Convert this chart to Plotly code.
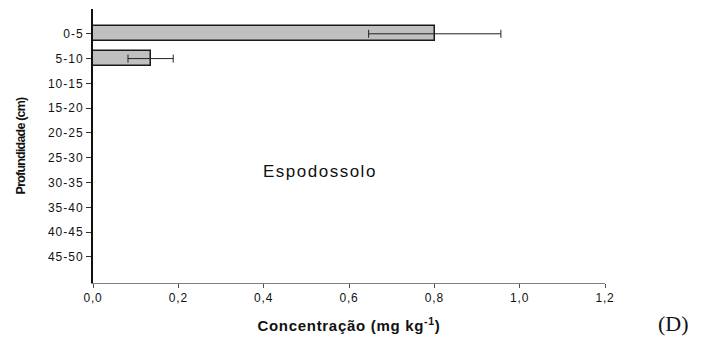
import plotly.graph_objects as go

# Depth layers (cm) and measured concentration with its deviation
depths = ["0-5", "5-10", "10-15", "15-20", "20-25", "25-30", "30-35", "35-40", "40-45", "45-50"]
concentration = [0.801, 0.135]
deviation = [0.155, 0.053]
x_ticks = [0.0, 0.2, 0.4, 0.6, 0.8, 1.0, 1.2]
x_tick_labels = ["0,0", "0,2", "0,4", "0,6", "0,8", "1,0", "1,2"]

positions = list(range(1, len(depths) + 1))

L, R, T, B = 93, 109, 9, 55
W, H = 714, 338


def spaced(text, px):
    return f'<span style="letter-spacing:{px}px">{text}</span>'


fig = go.Figure()
fig.add_trace(go.Bar(
    x=concentration,
    y=positions[:len(concentration)],
    orientation="h",
    width=0.61,
    marker=dict(color="#c0c0c0", line=dict(color="#1a1a1a", width=1.5)),
    error_x=dict(type="data", array=deviation, visible=True,
                 color="#222222", thickness=1, width=4),
    showlegend=False,
))

fig.add_annotation(x=0.532, y=6.55, xref="x", yref="y",
                   text=spaced("Espodossolo", 1.5),
                   showarrow=False, font=dict(family="Liberation Sans, Arial", size=17, color="#111"))
fig.add_annotation(x=(673 - L) / (W - L - R), y=(H - B - 323) / (H - T - B),
                   xref="paper", yref="paper", text="(D)",
                   xanchor="center", yanchor="middle",
                   showarrow=False, font=dict(family="Liberation Serif, Times New Roman", size=22, color="#111"))

fig.update_layout(
    width=W, height=H,
    margin=dict(l=L, r=R, t=T, b=B, autoexpand=False),
    paper_bgcolor="white", plot_bgcolor="white",
    font=dict(family="Liberation Sans, Arial", color="#111"),
    bargap=0,
)

fig.update_xaxes(
    range=[0, 1.2], tickvals=x_ticks, ticktext=[spaced(t, 0.8) for t in x_tick_labels],
    showgrid=False, zeroline=False, automargin=False,
    showline=True, linecolor="#808080", linewidth=1,
    ticks="outside", ticklen=4, tickcolor="#555555", tickwidth=1,
    tickfont=dict(size=12),
    title=dict(text="<b>" + spaced("Concentração (mg kg<sup>-1</sup>)", 0.7) + "</b>",
               font=dict(size=15), standoff=16),
)
fig.update_yaxes(
    range=[11.05, 0], tickvals=positions, ticktext=[spaced(t, 1) for t in depths],
    showgrid=False, zeroline=False, automargin=False,
    showline=True, linecolor="#111111", linewidth=2,
    ticks="outside", ticklen=5, tickcolor="#333333", tickwidth=1,
    tickfont=dict(size=12),
    title=dict(text="<b>" + spaced("Profundidade (cm)", -0.8) + "</b>",
               font=dict(size=12.5), standoff=20),
)

fig.write_html("out.html")
